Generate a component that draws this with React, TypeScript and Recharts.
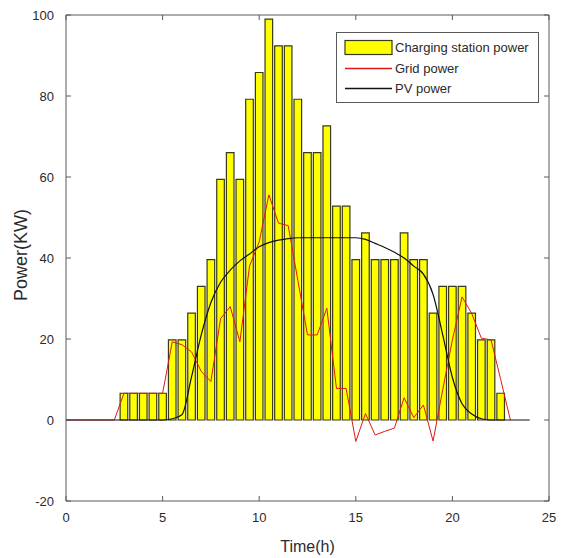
import React from 'react';
import { ComposedChart, Bar, Line, XAxis, YAxis, Legend } from 'recharts';

// half-hour time steps (h)
const HOURS = [
  0, 0.5, 1, 1.5, 2, 2.5, 3, 3.5, 4, 4.5, 5, 5.5, 6, 6.5, 7, 7.5, 8, 8.5, 9, 9.5,
  10, 10.5, 11, 11.5, 12, 12.5, 13, 13.5, 14, 14.5, 15, 15.5, 16, 16.5, 17, 17.5,
  18, 18.5, 19, 19.5, 20, 20.5, 21, 21.5, 22, 22.5, 23, 23.5, 24,
];

// charging station load (kW), bars
const STATION_POWER = [
  null, null, null, null, null, null, 6.6, 6.6, 6.6, 6.6, 6.6, 19.8, 19.8, 26.4, 33, 39.6, 59.4, 66, 59.4, 79.2,
  85.8, 99, 92.4, 92.4, 79.2, 66, 66, 72.6, 52.8, 52.8, 39.6, 46.2, 39.6, 39.6, 39.6, 46.2,
  39.6, 39.6, 26.4, 33, 33, 33, 26.4, 19.8, 19.8, 6.6, null, null, null,
];

// grid exchange (kW), red line
const GRID_POWER = [
  0, 0, 0, 0, 0, 0, 6.6, 6.6, 6.6, 6.6, 6.6, 19.3, 18.6, 16.8, 12, 9.5, 25, 28, 19.3, 38,
  44, 55.6, 48.6, 48, 34.5, 21, 21, 27.6, 7.8, 7.8, -5.3, 1.6, -3.7, -2.8, -2, 5.5,
  0.6, 3.7, -5.2, 7.5, 19.8, 30.4, 26.3, 20.2, 19.8, 10, 0, null, null,
];

// photovoltaic output (kW), black line
const PV_POWER = [
  0, 0, 0, 0, 0, 0, 0, 0, 0, 0, 0, 0.3, 1.3, 10.7, 21, 29, 34, 37, 39.3, 41,
  42.8, 43.8, 44.4, 44.8, 45, 45, 45, 45, 45, 45, 45, 44.6, 43.6, 42.6, 41.4, 40,
  38, 36, 31, 21, 10.5, 4, 1.5, 0.3, 0, 0, 0, 0, 0,
];

const X_TICKS = [0, 5, 10, 15, 20, 25];
const Y_TICKS = [-20, 0, 20, 40, 60, 80, 100];

const data = HOURS.map((hour, i) => ({
  hour,
  station: STATION_POWER[i],
  grid: GRID_POWER[i],
  pv: PV_POWER[i],
}));

const FONT = '"Liberation Sans", Arial, Helvetica, sans-serif';
const AXIS = '#5a5a5a';
const TEXT = '#2a2a2a';
const RED = '#e01818';
const BLACK = '#111111';
const YELLOW = '#ffff00';
const EDGE = '#3a3a18';
const TICK_LEN = 5;

const BottomTick = ({ x, y, payload }: any) => (
  <g>
    <line x1={x} y1={y} x2={x} y2={y - TICK_LEN} stroke={AXIS} />
    <text x={x} y={y + 21} textAnchor="middle" fontSize={13} fill={TEXT} fontFamily={FONT}>
      {payload.value}
    </text>
  </g>
);

const TopTick = ({ x, y }: any) => <line x1={x} y1={y} x2={x} y2={y + TICK_LEN} stroke={AXIS} />;

const LeftTick = ({ x, y, payload }: any) => (
  <g>
    <line x1={x} y1={y} x2={x + TICK_LEN} y2={y} stroke={AXIS} />
    <text x={x - 12} y={y + 4.5} textAnchor="end" fontSize={13} fill={TEXT} fontFamily={FONT}>
      {payload.value}
    </text>
  </g>
);

const RightTick = ({ x, y }: any) => <line x1={x} y1={y} x2={x - TICK_LEN} y2={y} stroke={AXIS} />;

const LEGEND_STROKE: Record<string, string> = { grid: RED, pv: BLACK };

const renderLegend = (props: any) => {
  const items = props.payload ?? [];
  return (
    <svg width={203} height={71} style={{ display: 'block' }}>
      <rect x={0.5} y={0.5} width={202} height={70} fill="#fff" stroke={AXIS} />
      {items.map((item: any, i: number) => {
        const cy = Math.round(15 + i * 20.5) + 0.5;
        const key = item.dataKey ?? item.payload?.dataKey;
        return (
          <g key={item.value}>
            {i === 0 ? (
              <rect x={9} y={cy - 7} width={47} height={14} fill={YELLOW} stroke={EDGE} strokeWidth={1.2} />
            ) : (
              <line
                x1={9}
                y1={cy}
                x2={56}
                y2={cy}
                stroke={LEGEND_STROKE[key] ?? (i === 1 ? RED : BLACK)}
                strokeWidth={1.3}
              />
            )}
            <text x={59} y={cy + 4.5} fontSize={13} fill={TEXT} fontFamily={FONT}>
              {item.value}
            </text>
          </g>
        );
      })}
    </svg>
  );
};

export default function App() {
  return (
    <div style={{ position: 'absolute', left: 0, top: 0, background: '#fff' }}>
      <ComposedChart
        width={564}
        height={558}
        data={data}
        margin={{ top: 14, right: 14, bottom: 0, left: 0 }}
      >
        <XAxis
          dataKey="hour"
          type="number"
          domain={[0, 25]}
          ticks={X_TICKS}
          allowDataOverflow
          height={57}
          tickSize={0}
          tickMargin={0}
          tickLine={false}
          axisLine={{ stroke: AXIS }}
          tick={<BottomTick />}
          label={{
            value: 'Time(h)',
            position: 'insideBottom',
            offset: 6,
            style: { fontSize: 16, fill: TEXT, fontFamily: FONT },
          }}
        />
        <XAxis
          xAxisId="top"
          orientation="top"
          dataKey="hour"
          type="number"
          domain={[0, 25]}
          ticks={X_TICKS}
          allowDataOverflow
          height={1}
          tickSize={0}
          tickMargin={0}
          tickLine={false}
          axisLine={{ stroke: AXIS }}
          tick={<TopTick />}
        />
        <YAxis
          type="number"
          domain={[-20, 100]}
          ticks={Y_TICKS}
          allowDataOverflow
          width={66}
          tickSize={0}
          tickMargin={0}
          tickLine={false}
          axisLine={{ stroke: AXIS }}
          tick={<LeftTick />}
          label={{
            value: 'Power(KW)',
            angle: -90,
            position: 'insideLeft',
            offset: 21,
            dy: -3,
            style: { textAnchor: 'middle', fontSize: 18, fill: TEXT, fontFamily: FONT },
          }}
        />
        <YAxis
          yAxisId="right"
          orientation="right"
          type="number"
          domain={[-20, 100]}
          ticks={Y_TICKS}
          allowDataOverflow
          width={1}
          tickSize={0}
          tickMargin={0}
          tickLine={false}
          axisLine={{ stroke: AXIS }}
          tick={<RightTick />}
        />
        <Legend
          layout="vertical"
          align="center"
          verticalAlign="middle"
          content={renderLegend}
          wrapperStyle={{ left: 336, top: 32, width: 203, height: 71 }}
        />
        <Bar
          dataKey="station"
          name="Charging station power"
          barSize={7.6}
          fill={YELLOW}
          stroke={EDGE}
          strokeWidth={1.2}
          isAnimationActive={false}
        />
        <Line
          dataKey="grid"
          name="Grid power"
          type="linear"
          stroke={RED}
          strokeWidth={1}
          dot={false}
          activeDot={false}
          isAnimationActive={false}
        />
        <Line
          dataKey="pv"
          name="PV power"
          type="monotone"
          stroke={BLACK}
          strokeWidth={1.2}
          dot={false}
          activeDot={false}
          isAnimationActive={false}
        />
      </ComposedChart>
    </div>
  );
}
